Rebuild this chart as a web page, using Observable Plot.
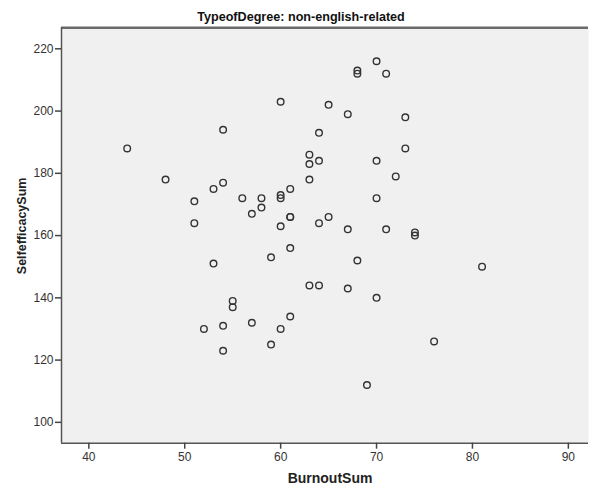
<!DOCTYPE html>
<html>
<head>
<meta charset="utf-8">
<script src="https://cdn.jsdelivr.net/npm/d3@7"></script>
<script src="https://cdn.jsdelivr.net/npm/@observablehq/plot@0.6"></script>
<style>
  html, body { margin: 0; padding: 0; background: #ffffff; }
  #chart svg { display: block; }
</style>
</head>
<body>
<div id="chart"></div>
<script>
// Data
const burnout = [44,48,51,51,52,53,53,54,54,54,54,55,55,56,57,57,58,58,59,59,60,60,60,60,60,61,61,61,61,61,63,63,63,63,64,64,64,64,65,65,67,67,67,68,68,68,69,70,70,70,70,71,71,72,73,73,74,74,76,81];
const selfEfficacy = [188,178,171,164,130,175,151,194,177,131,123,139,137,172,167,132,172,169,153,125,203,173,172,163,130,175,166,166,156,134,186,183,178,144,193,184,164,144,202,166,199,162,143,213,212,152,112,216,184,172,140,212,162,179,198,188,161,160,126,150];
const xTicks = [40,50,60,70,80,90];
const yTicks = [100,120,140,160,180,200,220];
const xDomain = [37.15, 92.1];
const yDomain = [93.3, 226.75];
const titleText = ["TypeofDegree: non-english-related"];
const xLabel = ["BurnoutSum"];
const yLabel = ["SelfefficacySum"];

const data = burnout.map((b, i) => ({BurnoutSum: b, SelfefficacySum: selfEfficacy[i]}));

const tickFont = "'Liberation Sans Narrow', 'Arial Narrow', 'Liberation Sans', Arial, sans-serif";
const boldFont = "'Liberation Sans', Arial, sans-serif";

const chart = Plot.plot({
  width: 590,
  height: 489,
  marginLeft: 61,
  marginRight: 2,
  marginTop: 27.3,
  marginBottom: 46.3,
  style: {fontFamily: tickFont, fontSize: "12px", color: "#333", background: "#ffffff"},
  x: {domain: xDomain, ticks: xTicks},
  y: {domain: yDomain, ticks: yTicks},
  marks: [
    Plot.frame({fill: "#f0f0f0", stroke: null}),
    Plot.ruleY([yDomain[1]], {stroke: "#6a6a6a", strokeWidth: 2.5}),
    Plot.ruleX([xDomain[0]], {stroke: "#555", strokeWidth: 1.5}),
    Plot.ruleY([yDomain[0]], {stroke: "#555", strokeWidth: 1.5}),
    Plot.axisX({ticks: xTicks, tickSize: 6, tickPadding: 3, label: null, stroke: "#444", strokeWidth: 1.5, fill: "#333", fontSize: 12}),
    Plot.axisY({ticks: yTicks, tickSize: 6, tickPadding: 2, label: null, stroke: "#444", strokeWidth: 1.5, fill: "#333", fontSize: 12}),
    Plot.dot(data, {x: "BurnoutSum", y: "SelfefficacySum", r: 3.3, stroke: "#333", strokeWidth: 1.4, fill: "none"}),
    Plot.text(titleText, {frameAnchor: "top-left", dx: 239.5, dy: -11, textAnchor: "middle", lineAnchor: "middle", fontFamily: boldFont, fontWeight: "bold", fontSize: 12.6, fill: "#111"}),
    Plot.text(xLabel, {frameAnchor: "bottom", dx: 5, dy: 35.5, lineAnchor: "middle", fontFamily: boldFont, fontWeight: "bold", fontSize: 14, fill: "#222"}),
    Plot.text(yLabel, {frameAnchor: "left", dx: -39.3, dy: -9.6, rotate: -90, textAnchor: "middle", lineAnchor: "middle", fontFamily: boldFont, fontWeight: "bold", fontSize: 12.5, fill: "#222"})
  ]
});
document.getElementById("chart").appendChild(chart);
</script>
</body>
</html>
